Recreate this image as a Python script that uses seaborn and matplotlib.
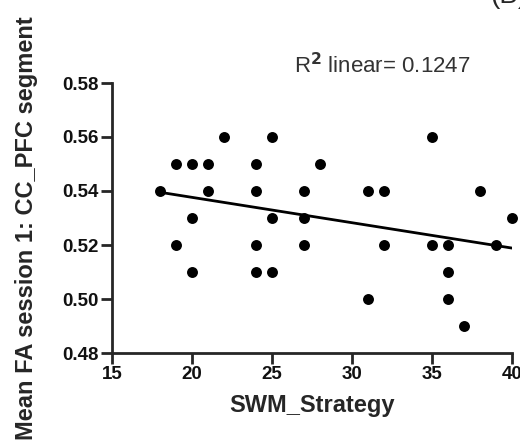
import numpy as np
import pandas as pd
import matplotlib
matplotlib.use("Agg")
import matplotlib.pyplot as plt
import seaborn as sns

# values
swm_strategy = [22, 25, 35,
                19, 20, 21, 24, 28,
                18, 21, 24, 27, 31, 32, 38,
                20, 25, 27, 40,
                19, 24, 27, 32, 35, 36, 39,
                20, 24, 25, 36,
                31, 36,
                37]
mean_fa = [0.56, 0.56, 0.56,
           0.55, 0.55, 0.55, 0.55, 0.55,
           0.54, 0.54, 0.54, 0.54, 0.54, 0.54, 0.54,
           0.53, 0.53, 0.53, 0.53,
           0.52, 0.52, 0.52, 0.52, 0.52, 0.52, 0.52,
           0.51, 0.51, 0.51, 0.51,
           0.50, 0.50,
           0.49]
x_ticks = [15, 20, 25, 30, 35, 40]
y_ticks = [0.48, 0.50, 0.52, 0.54, 0.56, 0.58]
r2_label = "R$^\\mathbf{2}$ linear= 0.1247"

df = pd.DataFrame({"SWM_Strategy": swm_strategy, "MeanFA": mean_fa})

sns.set_style("ticks")
plt.rcParams["font.family"] = ["Liberation Sans", "DejaVu Sans"]

fig = plt.figure(figsize=(5.2, 4.43), dpi=100)
ax = fig.add_axes([112 / 520, 1 - 353 / 443, 400 / 520, 270 / 443])

sns.regplot(data=df, x="SWM_Strategy", y="MeanFA", ci=None, ax=ax,
            scatter_kws={"s": 62, "color": "black", "alpha": 1, "linewidths": 0,
                         "clip_on": False, "zorder": 3},
            line_kws={"color": "black", "lw": 2})

ax.set_xlim(15, 40)
ax.set_ylim(0.48, 0.58)
ax.set_xticks(x_ticks)
ax.set_yticks(y_ticks)
ax.set_yticklabels([f"{v:.2f}" for v in y_ticks])
sns.despine(ax=ax)
for side in ["left", "bottom"]:
    ax.spines[side].set_linewidth(2)
ax.tick_params(axis="both", direction="out", length=8, width=2, labelsize=13.5, pad=1.5)
for lbl in ax.get_xticklabels() + ax.get_yticklabels():
    lbl.set_fontweight("bold")
    lbl.set_color("#111111")

ax.set_xlabel("SWM_Strategy", fontsize=17, fontweight="bold", labelpad=8)
ax.set_ylabel("Mean FA session 1: CC_PFC segment", fontsize=17, fontweight="bold", ha="left")
ax.yaxis.set_label_coords(38 / 520, 3 / 443, transform=fig.transFigure)

# R^2 annotation sits above the top of the y axis
ax.text(382 / 520, 1 - 66 / 443, r2_label, transform=fig.transFigure, fontsize=16,
        color="#333333", ha="center", va="center")

# panel letter, cut off at the top edge as in the source
fig.text(490 / 520, 1 - 3 / 443, "(B)", fontsize=20, ha="left", va="baseline")

fig.savefig("out.png", dpi=100, facecolor="white")
